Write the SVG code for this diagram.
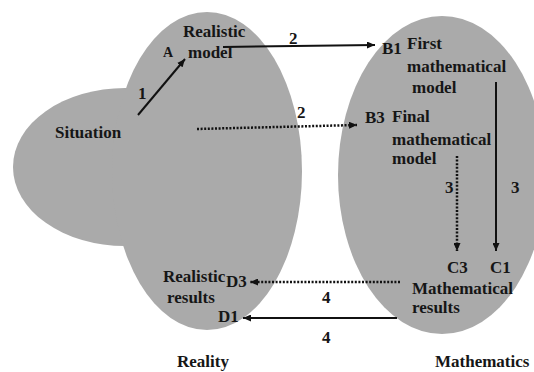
<svg xmlns="http://www.w3.org/2000/svg" width="534" height="372" viewBox="0 0 534 372">
<style>
.region{fill:#aaaaaa;stroke:none}
text{font-weight:bold;font-size:17px;fill:#161616}
.small{font-size:14px}
.solid{stroke:#111;stroke-width:2;fill:none}
.dot{stroke:#111;stroke-width:2.5;fill:none;stroke-dasharray:2 1.6}
</style>
<defs>
<marker id="ah" markerUnits="userSpaceOnUse" markerWidth="9" markerHeight="7" refX="8" refY="3.5" orient="auto">
<path d="M0,0 L8,3.5 L0,7 z" fill="#111"/>
</marker>
</defs>
<rect width="534" height="372" fill="#ffffff"/>
<g id="reality">
<ellipse class="region" cx="125" cy="167" rx="112" ry="79"/>
<ellipse class="region" cx="207" cy="171" rx="95" ry="159"/>
</g>
<g id="mathematics">
<ellipse class="region" cx="442" cy="175" rx="104" ry="159"/>
</g>
<g font-family="Liberation Serif, Times New Roman, Tinos, DejaVu Serif, serif">
<g id="connectors">
<line class="solid" x1="138" y1="115" x2="185" y2="59" marker-end="url(#ah)"/>
<line class="solid" x1="223" y1="47" x2="375" y2="45" marker-end="url(#ah)"/>
<line class="dot" x1="197" y1="129" x2="357" y2="125" marker-end="url(#ah)"/>
<line class="solid" x1="496" y1="82" x2="496" y2="251" marker-end="url(#ah)"/>
<line class="dot" x1="457" y1="156" x2="457" y2="251" marker-end="url(#ah)"/>
<line class="dot" x1="400" y1="282" x2="250" y2="282" marker-end="url(#ah)"/>
<line class="solid" x1="397" y1="318" x2="243" y2="318" marker-end="url(#ah)"/>
<text x="138" y="99">1</text>
<text x="289" y="44">2</text>
<text x="297" y="118">2</text>
<text x="445" y="193">3</text>
<text x="511" y="193">3</text>
<text x="322" y="303">4</text>
<text x="322" y="343">4</text>
</g>
<g id="situation-node"><text x="55" y="138">Situation</text></g>
<g id="realistic-model-node">
<text class="small" x="163" y="57">A</text>
<text x="183" y="37">Realistic</text>
<text x="188" y="58">model</text>
</g>
<g id="first-math-model-node">
<text x="382" y="54">B1</text>
<text x="407" y="49">First</text>
<text x="407" y="72">mathematical</text>
<text x="412" y="93">model</text>
</g>
<g id="final-math-model-node">
<text x="365" y="123">B3</text>
<text x="392" y="122">Final</text>
<text x="392" y="145">mathematical</text>
<text x="392" y="164">model</text>
</g>
<g id="math-results-node">
<text x="447" y="273">C3</text>
<text x="490" y="273">C1</text>
<text x="412" y="294">Mathematical</text>
<text x="412" y="313">results</text>
</g>
<g id="realistic-results-node">
<text x="163" y="282">Realistic</text>
<text x="226" y="287">D3</text>
<text x="167" y="303">results</text>
<text x="218" y="322">D1</text>
</g>
<g id="region-labels">
<text x="177" y="367">Reality</text>
<text x="435" y="367">Mathematics</text>
</g>
</g>
</svg>
